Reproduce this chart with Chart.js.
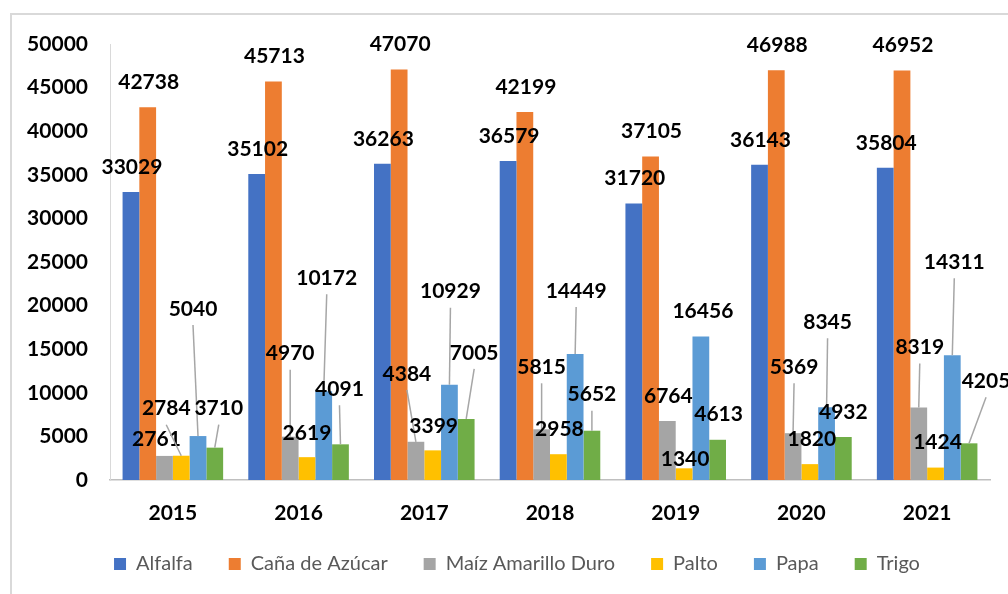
<!DOCTYPE html>
<html lang="es">
<head>
<meta charset="UTF-8">
<title>Producción por cultivo 2015-2021</title>
<script src="https://cdn.jsdelivr.net/npm/chart.js"></script>
<style>
  body { margin: 0; background: #fff; overflow: hidden; }
  .marco { position: absolute; left: 10px; top: 13px; width: 1100px; height: 700px;
           border-top: 2px solid #d9d9d9; border-left: 2px solid #d9d9d9; }
  #grafico { position: absolute; left: 0; top: 0; }
</style>
</head>
<body>
<div class="marco"></div>
<canvas id="grafico" width="1008" height="594"></canvas>

<script>
  // datos
  const anios = ['2015', '2016', '2017', '2018', '2019', '2020', '2021'];
  const alfalfa = [33029, 35102, 36263, 36579, 31720, 36143, 35804];
  const canaAzucar = [42738, 45713, 47070, 42199, 37105, 46988, 46952];
  const maiz = [2761, 4970, 4384, 5815, 6764, 5369, 8319];
  const palto = [2784, 2619, 3399, 2958, 1340, 1820, 1424];
  const papa = [5040, 10172, 10929, 14449, 16456, 8345, 14311];
  const trigo = [3710, 4091, 7005, 5652, 4613, 4932, 4205];
  const ejeYMax = 50000;
  const ejeYPaso = 5000;

  // posicion de las etiquetas (dx, dy desde el tope de la barra), por serie
  const desplazamientos = {
    2: [[-8, -17], [0, -83], [-9, -68], [0, -62], [1, -25], [1, -66], [1, -60]],
    3: [[-15, -47], [0, -24], [1, -24], [1, -25], [1, -9], [2, -25], [2, -25]],
    4: [[-5, -127], [3, -113], [1, -93], [1, -63], [2, -25], [1, -85], [2, -93]],
    5: [[4, -39], [-1, -55], [8, -66], [0, -36], [1, -26], [0, -25], [17, -62]]
  };
  // etiquetas con linea guia
  const lineasGuia = {
    2: [1, 2, 3, 5, 6],
    3: [0],
    4: [0, 1, 2, 3, 5, 6],
    5: [0, 1, 2, 3, 6]
  };

  const etiquetasPlugin = {
    id: 'etiquetas',
    afterLayout(chart) {
      // mover un poco la leyenda (arriba y a la derecha)
      chart.legend.top -= 6;
      chart.legend.bottom -= 6;
      chart.legend.left += 22;
      chart.legend.right += 22;
    },
    afterDatasetsDraw(chart) {
      const ctx = chart.ctx;
      ctx.save();
      ctx.font = 'bold 21px Lato';
      ctx.textAlign = 'center';
      ctx.textBaseline = 'middle';
      chart.data.datasets.forEach((ds, i) => {
        chart.getDatasetMeta(i).data.forEach((bar, j) => {
          const off = (desplazamientos[i] && desplazamientos[i][j]) || [1, -25];
          const lx = bar.x + off[0];
          const ly = bar.y + off[1];
          if (lineasGuia[i] && lineasGuia[i].includes(j)) {
            ctx.strokeStyle = '#a6a6a6';
            ctx.lineWidth = 1.5;
            ctx.beginPath();
            ctx.moveTo(lx, ly + 16);
            ctx.lineTo(bar.x, bar.y);
            ctx.stroke();
          }
          ctx.fillStyle = '#000';
          ctx.fillText(ds.data[j], lx, ly);
        });
      });
      ctx.restore();
    }
  };

  const ctx = document.getElementById('grafico').getContext('2d');
  new Chart(ctx, {
    type: 'bar',
    data: {
      labels: anios,
      datasets: [
        { label: 'Alfalfa', data: alfalfa, backgroundColor: '#4472c4' },
        { label: 'Caña de Azúcar', data: canaAzucar, backgroundColor: '#ed7d31' },
        { label: 'Maíz Amarillo Duro', data: maiz, backgroundColor: '#a5a5a5' },
        { label: 'Palto', data: palto, backgroundColor: '#ffc000' },
        { label: 'Papa', data: papa, backgroundColor: '#5b9bd5' },
        { label: 'Trigo', data: trigo, backgroundColor: '#70ad47' }
      ]
    },
    options: {
      responsive: false,
      animation: false,
      categoryPercentage: 0.8,
      barPercentage: 1.0,
      layout: { padding: { top: 44, right: 18, bottom: 4, left: 0 } },
      plugins: {
        tooltip: { enabled: false },
        legend: {
          position: 'bottom',
          labels: {
            font: { family: 'Lato', size: 20 },
            color: '#595959',
            boxWidth: 12,
            boxHeight: 12,
            padding: 36
          }
        }
      },
      scales: {
        x: {
          grid: { display: false, drawTicks: false },
          border: { color: '#bfbfbf', width: 1.5 },
          ticks: { color: '#000', font: { family: 'Lato', size: 21, weight: 'bold' }, padding: 21 },
          afterFit(scale) { scale.height = 44; }
        },
        y: {
          min: 0,
          max: ejeYMax,
          grid: { display: false, drawTicks: false },
          border: { color: '#d9d9d9', width: 1 },
          ticks: {
            stepSize: ejeYPaso,
            color: '#000',
            font: { family: 'Lato', size: 21, weight: 'bold' },
            padding: 22,
            callback: (v) => String(v)
          },
          afterFit(scale) { scale.width = 110; }
        }
      }
    },
    plugins: [etiquetasPlugin]
  });
</script>
</body>
</html>
